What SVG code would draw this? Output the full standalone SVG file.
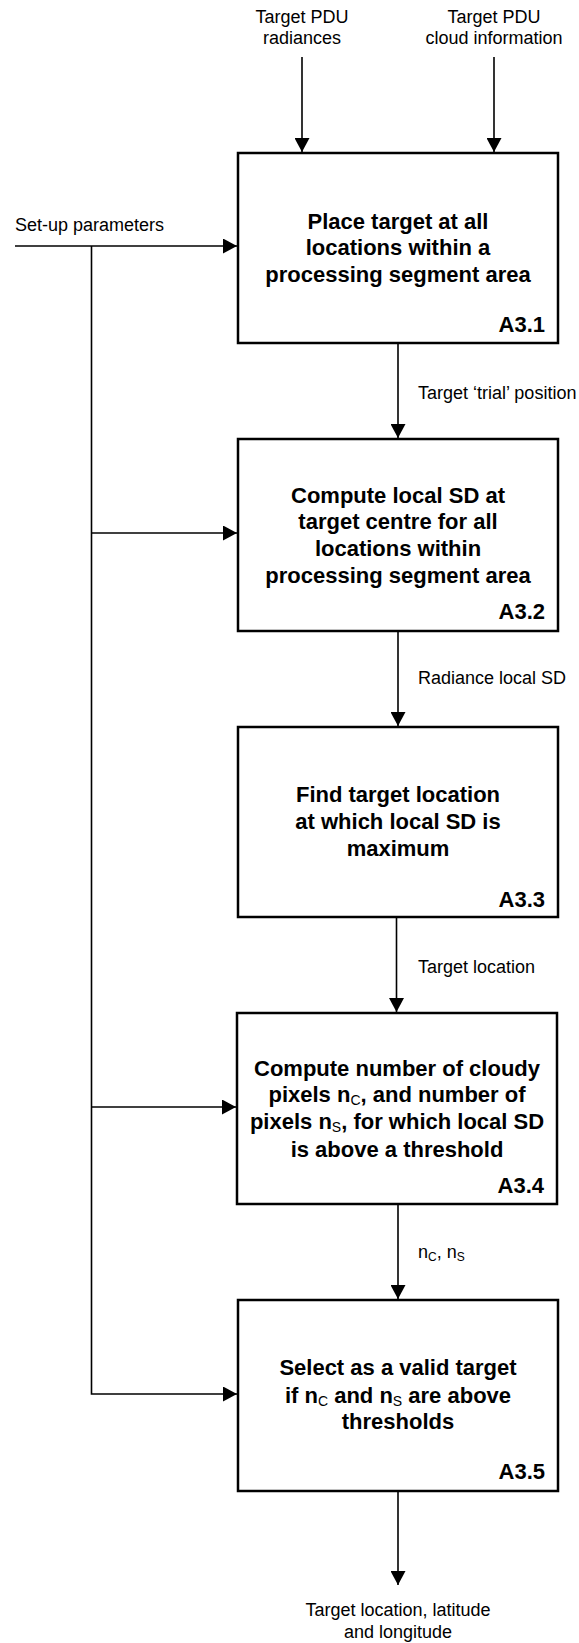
<svg xmlns="http://www.w3.org/2000/svg" width="579" height="1643" viewBox="0 0 579 1643">
<style>
.box{fill:#fff;stroke:#000;stroke-width:2.5}
.ln{fill:none;stroke:#000;stroke-width:1.6}
.bt{font-family:"Liberation Sans",Arial,sans-serif;font-weight:bold;font-size:22px;text-anchor:middle;fill:#000}
.id{font-family:"Liberation Sans",Arial,sans-serif;font-weight:bold;font-size:22px;text-anchor:end;fill:#000}
.lb{font-family:"Liberation Sans",Arial,sans-serif;font-size:18px;fill:#000}
.c{text-anchor:middle}
.sub{font-weight:normal;font-size:14px}
.sub2{font-size:12px}
</style>
<defs>
<marker id="ah" markerUnits="userSpaceOnUse" markerWidth="14" markerHeight="15" refX="14" refY="7.5" orient="auto">
<path d="M0,0 L14,7.5 L0,15 z" fill="#000"/>
</marker>
</defs>
<g id="connectors">
<line class="ln" x1="302" y1="57" x2="302" y2="152" marker-end="url(#ah)"/>
<line class="ln" x1="494" y1="57" x2="494" y2="152" marker-end="url(#ah)"/>
<line class="ln" x1="15" y1="246" x2="237" y2="246" marker-end="url(#ah)"/>
<polyline class="ln" points="91.5,246 91.5,1394 237,1394" marker-end="url(#ah)"/>
<line class="ln" x1="91.5" y1="533" x2="237" y2="533" marker-end="url(#ah)"/>
<line class="ln" x1="91.5" y1="1107" x2="236" y2="1107" marker-end="url(#ah)"/>
<line class="ln" x1="398" y1="343" x2="398" y2="438" marker-end="url(#ah)"/>
<line class="ln" x1="398" y1="631" x2="398" y2="726" marker-end="url(#ah)"/>
<line class="ln" x1="396.5" y1="917" x2="396.5" y2="1012" marker-end="url(#ah)"/>
<line class="ln" x1="398" y1="1204" x2="398" y2="1299" marker-end="url(#ah)"/>
<line class="ln" x1="398" y1="1491" x2="398" y2="1585" marker-end="url(#ah)"/>
</g>
<g id="labels">
<text class="lb c" x="302" y="22.5">Target PDU</text>
<text class="lb c" x="302" y="43.5">radiances</text>
<text class="lb c" x="494" y="22.5">Target PDU</text>
<text class="lb c" x="494" y="43.5">cloud information</text>
<text class="lb" x="15" y="231">Set-up parameters</text>
<text class="lb" x="418" y="399">Target ‘trial’ position</text>
<text class="lb" x="418" y="684">Radiance local SD</text>
<text class="lb" x="418" y="972.5">Target location</text>
<text class="lb" x="418" y="1258">n<tspan class="sub2" dy="3">C</tspan><tspan dy="-3">, n</tspan><tspan class="sub2" dy="3">S</tspan></text>
<text class="lb c" x="398" y="1616">Target location, latitude</text>
<text class="lb c" x="398" y="1638">and longitude</text>
</g>
<g id="A3.1">
<rect class="box" x="238" y="153" width="320" height="190"/>
<text class="bt" x="398" y="228.5">Place target at all</text>
<text class="bt" x="398" y="255">locations within a</text>
<text class="bt" x="398" y="281.5">processing segment area</text>
<text class="id" x="545" y="331.5">A3.1</text>
</g>
<g id="A3.2">
<rect class="box" x="238" y="439" width="320" height="192"/>
<text class="bt" x="398" y="502.5">Compute local SD at</text>
<text class="bt" x="398" y="529">target centre for all</text>
<text class="bt" x="398" y="556">locations within</text>
<text class="bt" x="398" y="582.5">processing segment area</text>
<text class="id" x="545" y="619">A3.2</text>
</g>
<g id="A3.3">
<rect class="box" x="238" y="727" width="320" height="190"/>
<text class="bt" x="398" y="801.5">Find target location</text>
<text class="bt" x="398" y="828.5">at which local SD is</text>
<text class="bt" x="398" y="855.5">maximum</text>
<text class="id" x="545" y="906.5">A3.3</text>
</g>
<g id="A3.4">
<rect class="box" x="237" y="1013" width="320" height="191"/>
<text class="bt" x="397" y="1075.5">Compute number of cloudy</text>
<text class="bt" x="397" y="1102">pixels n<tspan class="sub" dy="3">C</tspan><tspan dy="-3">, and number of</tspan></text>
<text class="bt" x="397" y="1129">pixels n<tspan class="sub" dy="3">S</tspan><tspan dy="-3">, for which local SD</tspan></text>
<text class="bt" x="397" y="1156.5">is above a threshold</text>
<text class="id" x="544" y="1193">A3.4</text>
</g>
<g id="A3.5">
<rect class="box" x="238" y="1300" width="320" height="191"/>
<text class="bt" x="398" y="1375">Select as a valid target</text>
<text class="bt" x="398" y="1402.5">if n<tspan class="sub" dy="3">C</tspan><tspan dy="-3"> and n</tspan><tspan class="sub" dy="3">S</tspan><tspan dy="-3"> are above</tspan></text>
<text class="bt" x="398" y="1429">thresholds</text>
<text class="id" x="545" y="1479">A3.5</text>
</g>
</svg>
